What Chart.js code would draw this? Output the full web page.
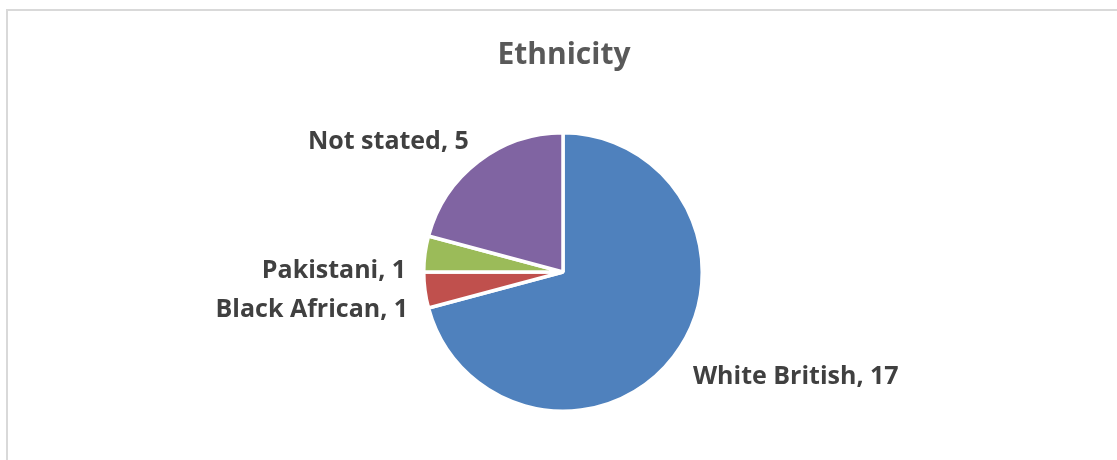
<!DOCTYPE html>
<html>
<head>
<meta charset="utf-8">
<script src="https://cdn.jsdelivr.net/npm/chart.js@4/dist/chart.umd.min.js"></script>
<style>
  html, body { margin: 0; padding: 0; background: #fff; }
  #wrap { position: relative; width: 1117px; height: 460px; overflow: hidden; }
  #frame { position: absolute; left: 6px; top: 9px; width: 1200px; height: 600px;
           border-left: 2px solid #d9d9d9; border-top: 2px solid #d9d9d9; }
  canvas { position: absolute; left: 0; top: 0; }
</style>
</head>
<body>
<div id="wrap">
  <div id="frame"></div>
  <canvas id="c" width="1117" height="460"></canvas>
</div>
<script>
// Ethnicity breakdown
const categories = ['White British', 'Black African', 'Pakistani', 'Not stated'];
const counts = [17, 1, 1, 5];
const sliceColors = ['#4f81bd', '#c0504d', '#9bbb59', '#8064a2'];
const chartTitle = 'Ethnicity';

// Label placement nudges (pixels) for each slice label, relative to a point just outside the slice
const labelNudge = [[2, 14], [5, 24], [3, 27], [4, 5]];

const FONT = '"Open Sans", Lato, sans-serif';

const outsideLabels = {
  id: 'outsideLabels',
  afterDatasetsDraw(chart) {
    const ctx = chart.ctx;
    const meta = chart.getDatasetMeta(0);
    ctx.save();
    // title
    ctx.fillStyle = '#595959';
    ctx.font = 'bold 30px ' + FONT;
    ctx.textAlign = 'center';
    ctx.textBaseline = 'alphabetic';
    ctx.fillText(chartTitle, 564, 64);

    ctx.font = 'bold 25px ' + FONT;
    ctx.fillStyle = '#404040';
    meta.data.forEach((arc, i) => {
      const p = arc.getProps(['x', 'y', 'startAngle', 'endAngle', 'outerRadius'], true);
      const mid = (p.startAngle + p.endAngle) / 2;
      const r = p.outerRadius + 22;
      const ax = p.x + Math.cos(mid) * r + labelNudge[i][0];
      const ay = p.y + Math.sin(mid) * r + labelNudge[i][1];
      ctx.textAlign = Math.cos(mid) >= 0 ? 'left' : 'right';
      ctx.fillText(categories[i] + ', ' + counts[i], ax, ay);
    });
    ctx.restore();
  }
};

new Chart(document.getElementById('c'), {
  type: 'pie',
  data: {
    labels: categories,
    datasets: [{
      data: counts,
      backgroundColor: sliceColors,
      borderColor: '#ffffff',
      borderWidth: 3.5
    }]
  },
  options: {
    responsive: false,
    animation: false,
    layout: { padding: { left: 422, right: 413, top: 131, bottom: 47 } },
    plugins: {
      legend: { display: false },
      tooltip: { enabled: false },
      title: { display: false }
    }
  },
  plugins: [outsideLabels]
});
</script>
</body>
</html>
